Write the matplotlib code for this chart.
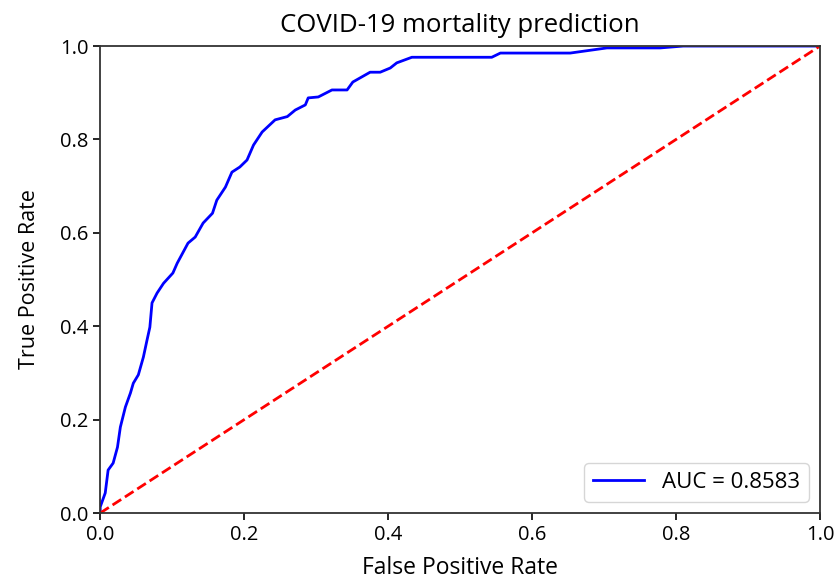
import matplotlib
matplotlib.use("Agg")
import matplotlib.pyplot as plt

plt.rcParams['font.family'] = ['Open Sans', 'DejaVu Sans']

# ROC curve points
fpr = [0.0, 0.0, 0.007, 0.011, 0.018, 0.024, 0.028, 0.035, 0.042, 0.046, 0.053,
       0.060, 0.065, 0.069, 0.072, 0.079, 0.088, 0.101, 0.107, 0.122, 0.132,
       0.143, 0.156, 0.162, 0.174, 0.183, 0.194, 0.204, 0.213, 0.225, 0.243,
       0.260, 0.271, 0.285, 0.289, 0.303, 0.322, 0.343, 0.351, 0.375, 0.389,
       0.403, 0.412, 0.433, 0.472, 0.544, 0.556, 0.653, 0.704, 0.778, 0.810, 1.0]
tpr = [0.0, 0.013, 0.043, 0.092, 0.107, 0.141, 0.184, 0.227, 0.257, 0.278, 0.296,
       0.334, 0.370, 0.398, 0.450, 0.471, 0.492, 0.514, 0.535, 0.578, 0.591,
       0.621, 0.642, 0.670, 0.698, 0.730, 0.741, 0.756, 0.788, 0.816, 0.842,
       0.849, 0.863, 0.874, 0.889, 0.891, 0.906, 0.906, 0.923, 0.944, 0.944,
       0.953, 0.964, 0.976, 0.976, 0.976, 0.985, 0.985, 0.996, 0.996, 1.0, 1.0]
roc_auc = 0.8583

fig = plt.figure(figsize=(8.35, 5.83), dpi=100)
ax = fig.add_axes([0.12, 0.12, 0.862, 0.801])
ax.plot(fpr, tpr, 'b', linewidth=2, label='AUC = %0.4f' % roc_auc)
ax.plot([0, 1], [0, 1], 'r--', linewidth=2)
ax.set_xlim([0, 1])
ax.set_ylim([0, 1])
ax.set_title('COVID-19 mortality prediction', fontsize=18.5, pad=10)
ax.set_xlabel('False Positive Rate', fontsize=16.5, labelpad=8)
ax.set_ylabel('True Positive Rate', fontsize=15.5, labelpad=14)
ax.tick_params(labelsize=14.5, width=1.2, length=5)
for s in ax.spines.values():
    s.set_color('#333333')
    s.set_linewidth(1.3)
ax.legend(loc='lower right', fontsize=16, handlelength=2.3)
fig.savefig('out.png', dpi=100)
